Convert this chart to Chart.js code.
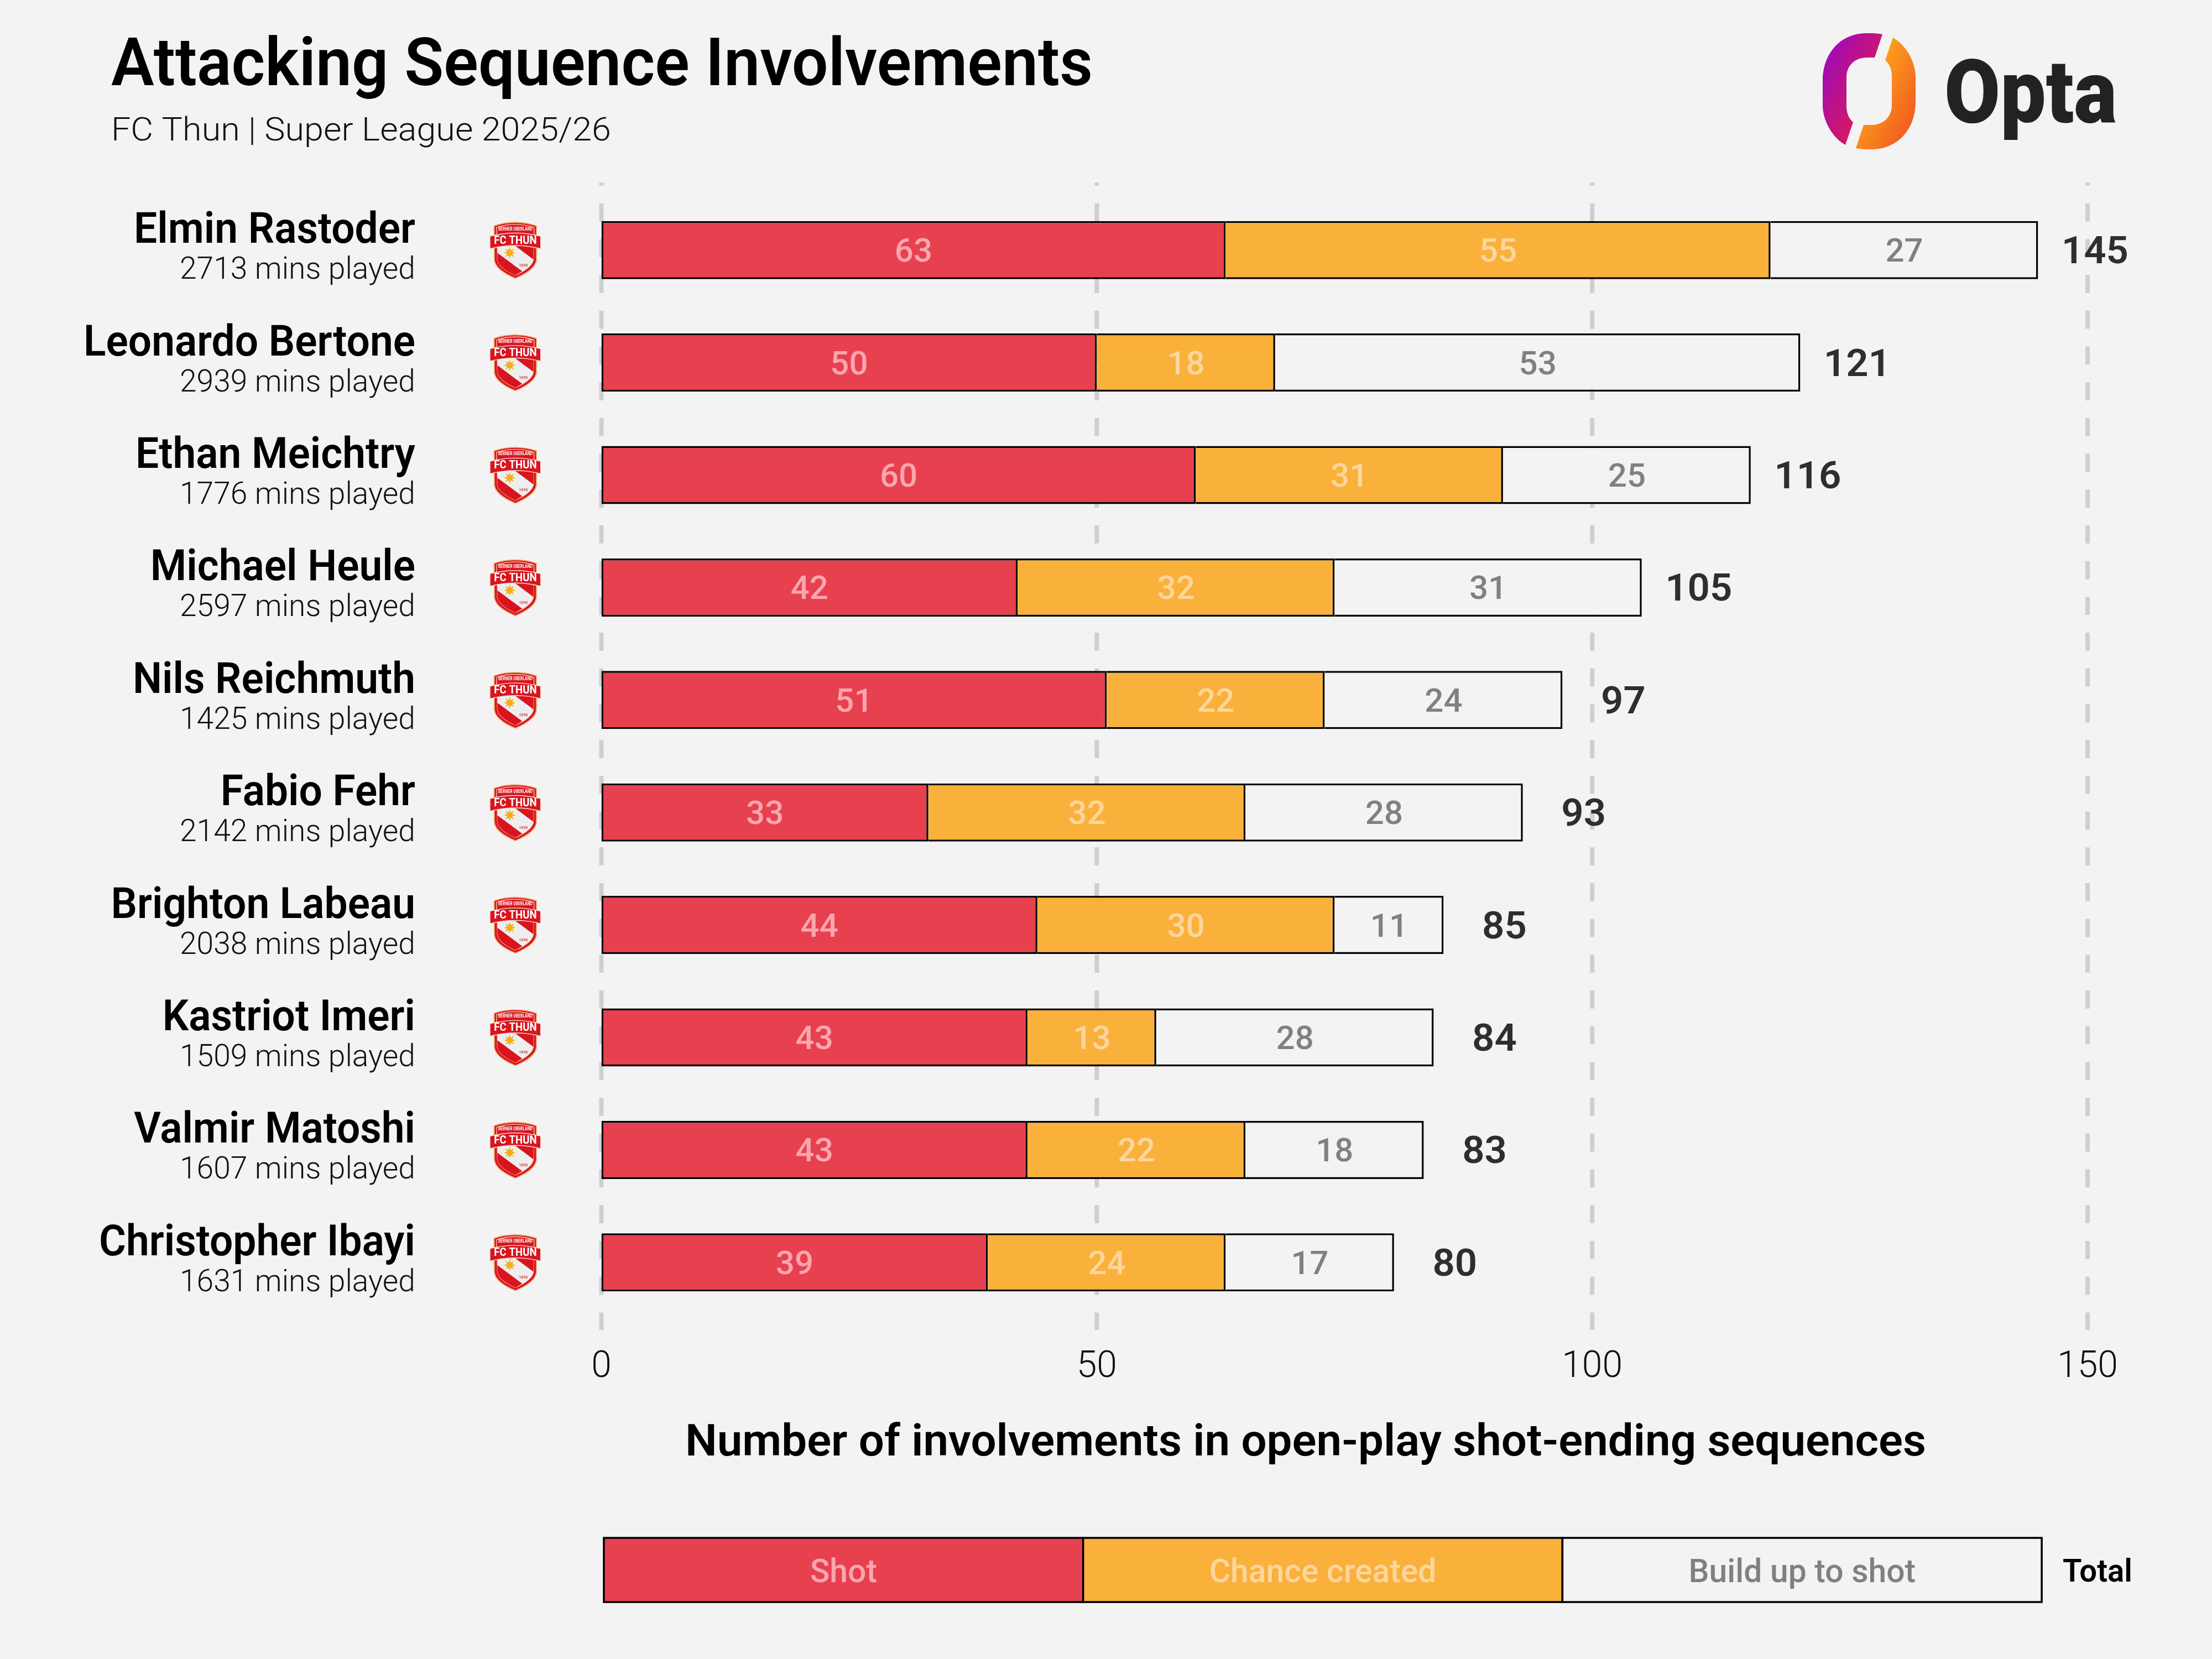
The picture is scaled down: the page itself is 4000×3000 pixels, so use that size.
<!DOCTYPE html>
<html>
<head>
<meta charset="utf-8">
<title>Attacking Sequence Involvements</title>
<script src="https://cdn.jsdelivr.net/npm/chart.js@4"></script>
<style>
  html, body { margin: 0; padding: 0; background: #f3f3f3; }
  canvas { display: block; }
</style>
</head>
<body>
<canvas id="chart" width="4000" height="3000"></canvas>
<script>
const players = ['Elmin Rastoder', 'Leonardo Bertone', 'Ethan Meichtry', 'Michael Heule', 'Nils Reichmuth',
  'Fabio Fehr', 'Brighton Labeau', 'Kastriot Imeri', 'Valmir Matoshi', 'Christopher Ibayi'];
const minutes = [2713, 2939, 1776, 2597, 1425, 2142, 2038, 1509, 1607, 1631];
const shot = [63, 50, 60, 42, 51, 33, 44, 43, 43, 39];
const chanceCreated = [55, 18, 31, 32, 22, 32, 30, 13, 22, 24];
const buildUp = [27, 53, 25, 31, 24, 28, 11, 28, 18, 17];
const totals = [145, 121, 116, 105, 97, 93, 85, 84, 83, 80];
const xTicks = [0, 50, 100, 150];
const legendLabels = ['Shot', 'Chance created', 'Build up to shot'];

const FONT = 'Roboto, sans-serif';
const BG = '#f3f3f3';
const RED = 'rgba(231, 60, 75, 0.98)';
const ORANGE = 'rgba(249, 175, 56, 0.98)';
const BLANK = 'rgba(243, 243, 243, 0.98)';
const LABEL_COLORS = ['#fba6af', '#fed69d', '#808080'];

// draw text squeezed sideways so it fills the width measured on the reference
function fitText(ctx, text, x, y, font, color, align, xScale) {
  ctx.save();
  ctx.font = font;
  ctx.fillStyle = color;
  ctx.textAlign = align;
  ctx.textBaseline = 'alphabetic';
  ctx.translate(x, y);
  ctx.scale(xScale, 1);
  ctx.fillText(text, 0, 0);
  ctx.restore();
}

function scaleFor(ctx, font, sample, width) {
  ctx.save();
  ctx.font = font;
  const w = ctx.measureText(sample).width;
  ctx.restore();
  return width / w;
}

function drawCrest(ctx, cx, cy) {
  ctx.save();
  ctx.translate(cx, cy);
  ctx.scale(1 / 3, 1 / 3);
  ctx.translate(-248, -247);

  ctx.beginPath();
  ctx.moveTo(133, 116);
  ctx.quadraticCurveTo(245, 78, 362, 116);
  ctx.lineTo(362, 300);
  ctx.bezierCurveTo(358, 345, 295, 380, 248, 400);
  ctx.bezierCurveTo(200, 380, 138, 345, 134, 300);
  ctx.closePath();
  ctx.fillStyle = '#d8151f';
  ctx.fill();
  ctx.lineWidth = 5;
  ctx.strokeStyle = '#f4a56a';
  ctx.stroke();

  // thin ring inside the top tab
  ctx.beginPath();
  ctx.moveTo(146, 165);
  ctx.lineTo(146, 124);
  ctx.quadraticCurveTo(245, 92, 349, 124);
  ctx.lineTo(349, 165);
  ctx.lineWidth = 4;
  ctx.strokeStyle = '#f6cdb0';
  ctx.stroke();

  // white field under the banner
  ctx.beginPath();
  ctx.moveTo(150, 225);
  ctx.lineTo(346, 225);
  ctx.lineTo(346, 298);
  ctx.bezierCurveTo(340, 335, 290, 365, 248, 384);
  ctx.bezierCurveTo(205, 365, 155, 335, 150, 298);
  ctx.closePath();
  ctx.fillStyle = '#eeeeee';
  ctx.fill();
  ctx.lineWidth = 4;
  ctx.strokeStyle = '#f6cdb0';
  ctx.stroke();

  // red diagonals across the field
  ctx.fillStyle = '#d8151f';
  ctx.beginPath();
  ctx.moveTo(248, 225);
  ctx.lineTo(346, 225);
  ctx.lineTo(346, 298);
  ctx.closePath();
  ctx.fill();
  ctx.beginPath();
  ctx.moveTo(150, 262);
  ctx.lineTo(285, 362);
  ctx.lineTo(248, 384);
  ctx.bezierCurveTo(205, 365, 155, 335, 150, 298);
  ctx.closePath();
  ctx.fill();

  // banner
  ctx.beginPath();
  ctx.moveTo(110, 172);
  ctx.quadraticCurveTo(248, 138, 385, 172);
  ctx.lineTo(385, 240);
  ctx.quadraticCurveTo(248, 205, 110, 240);
  ctx.closePath();
  ctx.fillStyle = '#d8151f';
  ctx.fill();
  ctx.lineWidth = 4;
  ctx.strokeStyle = '#f6e2d4';
  ctx.stroke();

  // star
  ctx.beginPath();
  for (let i = 0; i < 16; i++) {
    const r = i % 2 ? 15 : 32;
    const a = i * Math.PI / 8 - Math.PI / 2;
    const px = 217 + r * Math.cos(a);
    const py = 262 + r * Math.sin(a);
    if (i === 0) ctx.moveTo(px, py); else ctx.lineTo(px, py);
  }
  ctx.closePath();
  ctx.fillStyle = '#f5ae14';
  ctx.fill();

  const fcFont = '700 62px ' + FONT;
  const topFont = '700 25px ' + FONT;
  const yearFont = '500 22px ' + FONT;
  fitText(ctx, 'BERNER OBERLAND', 248, 140, topFont, '#ffffff', 'center', scaleFor(ctx, topFont, 'BERNER OBERLAND', 185));
  fitText(ctx, 'FC THUN', 248, 212, fcFont, '#ffffff', 'center', scaleFor(ctx, fcFont, 'FC THUN', 232));
  fitText(ctx, '1898', 291, 335, yearFont, '#c8323a', 'center', 0.95);
  ctx.restore();
}

function drawLogo(ctx) {
  // half of the ring, the other half is the same shape turned round
  const half = () => {
    ctx.beginPath();
    ctx.moveTo(3404, 62);
    ctx.bezierCurveTo(3392, 60, 3385, 60, 3376, 60);
    ctx.bezierCurveTo(3325, 60, 3296, 100, 3296, 146);
    ctx.lineTo(3296, 190);
    ctx.bezierCurveTo(3296, 220, 3315, 250, 3337, 262);
    ctx.lineTo(3351, 221);
    ctx.bezierCurveTo(3343, 214, 3339, 204, 3339, 192);
    ctx.lineTo(3339, 140);
    ctx.bezierCurveTo(3339, 118, 3355, 104, 3376, 104);
    ctx.lineTo(3390, 104);
    ctx.closePath();
  };
  let g = ctx.createLinearGradient(3296, 130, 3395, 180);
  g.addColorStop(0, '#a50cb0');
  g.addColorStop(1, '#dc1a55');
  half();
  ctx.fillStyle = g;
  ctx.fill();

  ctx.save();
  ctx.translate(6760, 330);
  ctx.rotate(Math.PI);
  g = ctx.createLinearGradient(3296, 130, 3395, 180);
  g.addColorStop(0, '#f2601f');
  g.addColorStop(1, '#fda91b');
  half();
  ctx.fillStyle = g;
  ctx.fill();
  ctx.restore();

  const font = '900 160px ' + FONT;
  fitText(ctx, 'Opta', 3516, 221, font, '#222222', 'left', scaleFor(ctx, font, 'Opta', 312));
}

const gridPlugin = {
  id: 'dashedGrid',
  beforeDatasetsDraw(chart) {
    const { ctx, scales: { x } } = chart;
    ctx.save();
    ctx.strokeStyle = '#cfcfcf';
    ctx.lineWidth = 8;
    ctx.setLineDash([32.7, 32]);
    ctx.lineDashOffset = 27;
    xTicks.forEach(v => {
      const px = x.getPixelForValue(v);
      ctx.beginPath();
      ctx.moveTo(px, 330);
      ctx.lineTo(px, 2405);
      ctx.stroke();
    });
    ctx.restore();
  }
};

const textPlugin = {
  id: 'texts',
  beforeDraw(chart) {
    const { ctx, width, height } = chart;
    ctx.save();
    ctx.fillStyle = BG;
    ctx.fillRect(0, 0, width, height);
    ctx.restore();
  },
  afterDraw(chart) {
    const { ctx, scales: { x, y } } = chart;

    // heading
    const titleFont = '600 121px ' + FONT;
    const subFont = '300 60px ' + FONT;
    const title = 'Attacking Sequence Involvements';
    const sub = 'FC Thun | Super League 2025/26';
    fitText(ctx, title, 201, 154, titleFont, '#000000', 'left', scaleFor(ctx, titleFont, title, 1775));
    fitText(ctx, sub, 201, 254, subFont, '#111111', 'left', scaleFor(ctx, subFont, sub, 904));
    drawLogo(ctx);

    // player names, minutes and crests
    const nameFont = '600 78px ' + FONT;
    const minsFont = '300 55px ' + FONT;
    const nameScale = scaleFor(ctx, nameFont, 'Christopher Ibayi', 572);
    const minsScale = scaleFor(ctx, minsFont, '1631 mins played', 426);
    players.forEach((name, i) => {
      const cy = y.getPixelForValue(i);
      fitText(ctx, name, 751, cy - 13, nameFont, '#000000', 'right', nameScale);
      fitText(ctx, minutes[i] + ' mins played', 751, cy + 52, minsFont, '#111111', 'right', minsScale);
      drawCrest(ctx, 932, cy);
    });

    // numbers inside the bars and totals
    const valueFont = '500 60px ' + FONT;
    const totalFont = '600 68px ' + FONT;
    chart.data.datasets.forEach((ds, d) => {
      chart.getDatasetMeta(d).data.forEach((bar, i) => {
        const c = bar.getCenterPoint();
        fitText(ctx, String(ds.data[i]), c.x, c.y + 21, valueFont, LABEL_COLORS[d], 'center', 1);
      });
    });
    totals.forEach((t, i) => {
      const offset = t >= 100 ? 103 : 110;
      fitText(ctx, String(t), x.getPixelForValue(t) + offset, y.getPixelForValue(i) + 24, totalFont, '#2e2e2e', 'center', 1.04);
    });

    // axis title
    const axisFont = '600 80px ' + FONT;
    const axisTitle = 'Number of involvements in open-play shot-ending sequences';
    fitText(ctx, axisTitle, 2361, 2632, axisFont, '#000000', 'center', scaleFor(ctx, axisFont, axisTitle, 2244));

    // legend strip
    const legendFont = '500 60px ' + FONT;
    const left = 1092, seg = 866.7, top = 2781, h = 116;
    [RED, ORANGE, BLANK].forEach((c, i) => {
      ctx.fillStyle = c;
      ctx.fillRect(left + i * seg, top, seg, h);
      ctx.strokeStyle = '#000000';
      ctx.lineWidth = 3.5;
      ctx.strokeRect(left + i * seg, top, seg, h);
      fitText(ctx, legendLabels[i], left + (i + 0.5) * seg, 2861, legendFont, LABEL_COLORS[i], 'center', 0.98);
    });
    fitText(ctx, 'Total', 3793, 2860, '600 58px ' + FONT, '#000000', 'center', 0.97);
  }
};

new Chart(document.getElementById('chart').getContext('2d'), {
  type: 'bar',
  data: {
    labels: players,
    datasets: [
      { label: 'Shot', data: shot, backgroundColor: RED, borderWidth: { top: 3.5, bottom: 3.5, left: 3.5, right: 3.5 } },
      { label: 'Chance created', data: chanceCreated, backgroundColor: ORANGE, borderWidth: { top: 3.5, bottom: 3.5, left: 0, right: 3.5 } },
      { label: 'Build up to shot', data: buildUp, backgroundColor: BLANK, borderWidth: { top: 3.5, bottom: 3.5, left: 0, right: 3.5 } }
    ].map(ds => ({ ...ds, borderColor: '#000000', borderSkipped: false, barThickness: 105, inflateAmount: 0 }))
  },
  plugins: [gridPlugin, textPlugin],
  options: {
    indexAxis: 'y',
    responsive: false,
    animation: false,
    layout: { padding: { top: 350.5, right: 225, bottom: 0, left: 0 } },
    plugins: {
      legend: { display: false },
      tooltip: { enabled: false }
    },
    scales: {
      x: {
        stacked: true,
        min: 0,
        max: 150,
        afterBuildTicks: scale => { scale.ticks = xTicks.map(value => ({ value })); },
        afterFit: scale => { scale.height = 615.5; },
        grid: { display: false },
        border: { display: false },
        ticks: {
          padding: 41,
          maxRotation: 0,
          color: '#111111',
          font: { family: 'Roboto', size: 66, weight: '300' }
        }
      },
      y: {
        stacked: true,
        afterFit: scale => { scale.width = 1087.5; },
        grid: { display: false },
        border: { display: false },
        ticks: { display: false }
      }
    }
  }
});
</script>
</body>
</html>
